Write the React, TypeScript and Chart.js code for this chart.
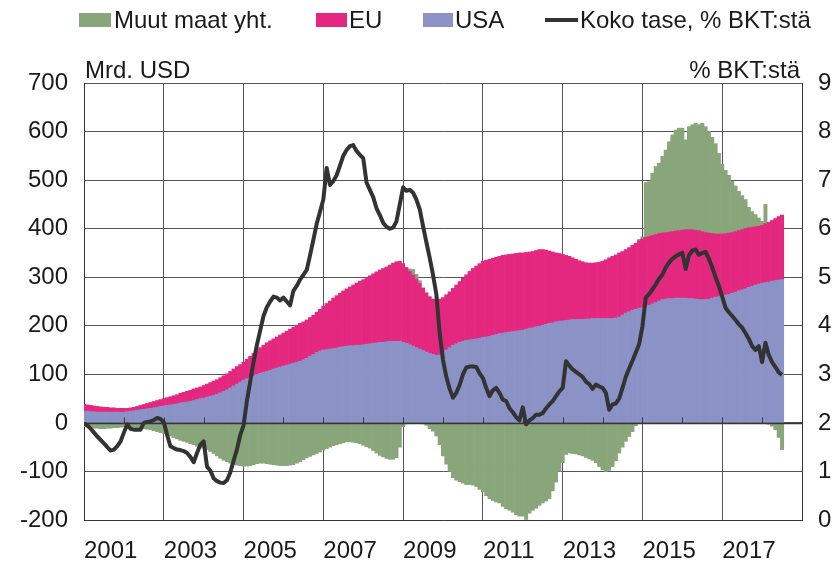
import { useEffect, useRef } from 'react';
import { Chart, registerables } from 'chart.js';

Chart.register(...registerables);

// ---------- data (monthly, Jan 2001 .. Jul 2018) ----------
const START_YEAR = 2001;
const X_LABELS = ['2001', '2003', '2005', '2007', '2009', '2011', '2013', '2015', '2017'];
const SERIES_NAMES = ['Muut maat yht.', 'EU', 'USA', 'Koko tase, % BKT:stä'];
const LEFT_TITLE = 'Mrd. USD';
const RIGHT_TITLE = '% BKT:stä';

const usa = [
  24, 24, 23, 23, 22, 22, 22, 22, 22, 22, 22, 22,
  22, 23, 24, 25, 26, 27, 28, 29, 30, 31, 32, 34,
  35, 36, 37, 38, 39, 41, 42, 43, 44, 46, 48, 50,
  51, 53, 55, 57, 59, 62, 65, 68, 72, 76, 80, 84,
  88, 91, 94, 97, 100, 102, 104, 106, 108, 111, 113, 115,
  117, 119, 121, 123, 125, 127, 130, 133, 137, 141, 145, 148,
  150, 151, 152, 153, 154, 156, 157, 158, 159, 159, 160, 160,
  161, 162, 163, 164, 165, 166, 166, 167, 168, 168, 168, 168,
  166, 164, 161, 158, 155, 152, 149, 146, 143, 141, 139, 140,
  145, 150, 155, 160, 163, 166, 168, 170, 171, 172, 173, 174,
  176, 177, 178, 180, 182, 184, 185, 186, 187, 188, 189, 190,
  191, 193, 195, 196, 198, 199, 201, 203, 205, 206, 208, 209,
  210, 211, 212, 213, 213, 213, 213, 214, 214, 215, 215, 215,
  215, 215, 215, 215, 216, 218, 222, 226, 229, 232, 234, 236,
  237, 239, 242, 245, 248, 251, 254, 255, 256, 256, 257, 257,
  257, 257, 256, 256, 255, 254, 254, 254, 255, 257, 259, 260,
  261, 263, 265, 267, 269, 272, 274, 276, 279, 281, 284, 286,
  288, 289, 290, 292, 293, 294, 295,
];

const eu = [
  14, 13, 13, 12, 12, 11, 10, 10, 9, 9, 8, 8,
  8, 7, 7, 7, 8, 9, 10, 11, 12, 13, 14, 14,
  15, 16, 17, 18, 19, 20, 21, 22, 23, 24, 24, 24,
  26, 27, 28, 29, 30, 31, 32, 33, 34, 35, 36, 36,
  37, 40, 43, 46, 49, 53, 56, 59, 61, 62, 64, 66,
  68, 70, 72, 74, 76, 78, 78, 79, 80, 81, 83, 86,
  90, 95, 99, 104, 108, 111, 115, 118, 121, 125, 128, 132,
  134, 137, 140, 143, 146, 149, 152, 154, 157, 161, 164, 165,
  162, 156, 151, 146, 141, 135, 129, 122, 117, 114, 115, 115,
  113, 114, 115, 117, 121, 125, 130, 135, 141, 146, 150, 154,
  157, 158, 159, 159, 159, 159, 160, 160, 160, 160, 160, 160,
  159, 158, 157, 157, 157, 158, 156, 153, 149, 146, 142, 140,
  137, 134, 131, 127, 124, 121, 119, 116, 115, 114, 115, 116,
  118, 121, 125, 128, 130, 132, 131, 131, 132, 134, 136, 139,
  142, 143, 142, 141, 140, 139, 137, 137, 137, 138, 138, 139,
  140, 141, 142, 142, 142, 142, 140, 138, 136, 133, 130, 129,
  128, 127, 126, 125, 125, 124, 124, 124, 123, 122, 120, 119,
  119, 121, 123, 125, 128, 131, 133,
];

const muut = [
  -8, -9, -10, -11, -11, -12, -12, -11, -11, -10, -10, -9,
  -8, -8, -8, -9, -10, -11, -12, -13, -14, -16, -18, -20,
  -22, -24, -27, -30, -33, -36, -38, -40, -43, -45, -48, -50,
  -52, -55, -59, -63, -68, -73, -77, -80, -83, -86, -87, -88,
  -89, -89, -88, -86, -84, -83, -83, -84, -85, -86, -87, -88,
  -88, -88, -87, -86, -83, -80, -76, -72, -69, -66, -63, -60,
  -56, -53, -50, -47, -45, -43, -41, -39, -39, -40, -41, -43,
  -46, -49, -52, -57, -62, -67, -70, -73, -75, -75, -72, -50,
  -8, -2, 5, 12, 10, 6, -2, -5, -12, -17, -27, -45,
  -68, -85, -100, -113, -118, -121, -124, -127, -127, -128, -131, -137,
  -142, -150, -156, -160, -163, -165, -172, -177, -180, -184, -189, -192,
  -192, -199, -186, -180, -176, -170, -165, -161, -156, -140, -122, -100,
  -82, -65, -62, -63, -64, -66, -68, -71, -74, -77, -82, -90,
  -97, -100, -98, -90, -78, -62, -50, -38, -28, -18, -6, 3,
  4, 113, 113, 128, 140, 145, 158, 170, 186, 199, 208, 211,
  210, 185, 212, 216, 220, 218, 223, 218, 209, 198, 186, 166,
  144, 130, 119, 106, 94, 81, 70, 60, 42, 32, 25, 17,
  8, 40, -3, -7, -14, -30, -55,
];

const kokoTase = [
  1.99, 1.95, 1.88, 1.8, 1.72, 1.65, 1.58, 1.5, 1.43, 1.45, 1.52, 1.62,
  1.8, 1.97, 1.88, 1.86, 1.86, 1.86, 2.0, 2.02, 2.03, 2.06, 2.1, 2.08,
  2.02, 1.75, 1.52, 1.48, 1.45, 1.44, 1.42, 1.38, 1.3, 1.19, 1.38, 1.55,
  1.62, 1.1, 1.02, 0.86, 0.8, 0.77, 0.76, 0.82, 0.98, 1.22, 1.45, 1.75,
  1.95, 2.45, 2.85, 3.25, 3.6, 3.9, 4.2, 4.38, 4.5, 4.6, 4.58, 4.52,
  4.58, 4.5, 4.42, 4.72, 4.82, 4.95, 5.05, 5.15, 5.45, 5.77, 6.1, 6.35,
  6.6, 7.25, 6.9, 6.98, 7.1, 7.3, 7.5, 7.62, 7.7, 7.72, 7.6, 7.52,
  7.45, 6.95, 6.8, 6.65, 6.42, 6.28, 6.12, 6.04, 6.0, 6.02, 6.15, 6.5,
  6.85, 6.78, 6.8, 6.74, 6.6, 6.4, 6.05, 5.72, 5.4, 5.05, 4.65, 3.85,
  3.3, 2.95, 2.7, 2.52, 2.62, 2.78, 3.0, 3.14, 3.16, 3.16, 3.15, 3.02,
  2.92, 2.72, 2.55, 2.67, 2.72, 2.62, 2.48, 2.45, 2.3, 2.22, 2.12, 2.05,
  2.32, 1.97, 2.05, 2.1, 2.17, 2.17, 2.2, 2.3, 2.38, 2.45, 2.55, 2.65,
  2.72, 3.27, 3.18, 3.1, 3.05, 3.0, 2.95, 2.85, 2.8, 2.7, 2.79, 2.75,
  2.72, 2.62, 2.27, 2.38, 2.4, 2.5, 2.72, 2.95, 3.12, 3.28, 3.45, 3.62,
  3.99, 4.58, 4.65, 4.75, 4.85, 4.97, 5.05, 5.2, 5.3, 5.38, 5.43, 5.47,
  5.5, 5.17, 5.45, 5.55, 5.57, 5.46, 5.5, 5.52, 5.38, 5.2, 5.0, 4.82,
  4.6, 4.37, 4.28, 4.2, 4.12, 4.03, 3.96, 3.85, 3.73, 3.58, 3.5, 3.58,
  3.25, 3.65, 3.4, 3.25, 3.15, 3.04, 2.99,
];

// ---------- styles ----------
const FONT = "'Liberation Sans', Arial, Helvetica, sans-serif";
const TEXT = '#1a1a1a';
const GRID = '#555555';
const AXIS = '#363636';
const C_MUUT = '#89a67b';
const C_EU = '#e4287f';
const C_USA = '#8b92c6';
const C_LINE = '#333333';

const X_MAX_MONTHS = 18 * 12;

const toPoints = (arr: number[]) => arr.map((v, i) => ({ x: i, y: v }));

const overlayPlugin = {
  id: 'overlay',
  beforeDatasetDraw(chart: any, args: any) {
    if (args.index !== 3) return;
    const { ctx, chartArea, scales } = chart;
    const y0 = Math.round(scales.y.getPixelForValue(0)) + 0.5;
    ctx.save();
    ctx.strokeStyle = AXIS;
    ctx.lineWidth = 1.5;
    ctx.beginPath();
    ctx.moveTo(chartArea.left, y0);
    ctx.lineTo(chartArea.right, y0);
    ctx.stroke();
    ctx.lineWidth = 1;
    ctx.beginPath();
    for (let j = 1; j < 18; j++) {
      const x = Math.round(scales.x.getPixelForValue(j * 12)) + 0.5;
      ctx.moveTo(x, y0);
      ctx.lineTo(x, y0 - 6);
    }
    ctx.stroke();
    ctx.restore();
  },
  afterDraw(chart: any) {
    const { ctx, chartArea } = chart;
    ctx.save();
    ctx.font = `24px ${FONT}`;
    ctx.fillStyle = TEXT;
    ctx.textBaseline = 'alphabetic';
    // axis titles
    ctx.textAlign = 'left';
    ctx.fillText(LEFT_TITLE, chartArea.left + 1, chartArea.top - 5);
    ctx.textAlign = 'right';
    ctx.fillText(RIGHT_TITLE, chartArea.right - 2, chartArea.top - 5);
    // legend
    ctx.textAlign = 'left';
    const baseY = 28;
    ctx.fillStyle = C_MUUT;
    ctx.fillRect(79, 13, 32, 14);
    ctx.fillStyle = TEXT;
    ctx.fillText(SERIES_NAMES[0], 114, baseY);
    ctx.fillStyle = C_EU;
    ctx.fillRect(316, 13, 31, 14);
    ctx.fillStyle = TEXT;
    ctx.fillText(SERIES_NAMES[1], 349, baseY);
    ctx.fillStyle = C_USA;
    ctx.fillRect(423, 13, 30, 14);
    ctx.fillStyle = TEXT;
    ctx.fillText(SERIES_NAMES[2], 455, baseY);
    ctx.strokeStyle = C_LINE;
    ctx.lineWidth = 4;
    ctx.beginPath();
    ctx.moveTo(545, 20);
    ctx.lineTo(578, 20);
    ctx.stroke();
    ctx.fillText(SERIES_NAMES[3], 580, baseY);
    ctx.restore();
  },
};

export default function App() {
  const canvasRef = useRef<HTMLCanvasElement | null>(null);

  useEffect(() => {
    const canvas = canvasRef.current;
    if (!canvas) return;
    const barCommon = {
      type: 'bar' as const,
      yAxisID: 'y',
      stack: 'main',
      barPercentage: 1,
      categoryPercentage: 1,
      borderWidth: 0,
    };
    const chart = new Chart(canvas, {
      type: 'bar',
      data: {
        datasets: [
          { ...barCommon, label: SERIES_NAMES[2], data: toPoints(usa), backgroundColor: C_USA },
          { ...barCommon, label: SERIES_NAMES[1], data: toPoints(eu), backgroundColor: C_EU },
          { ...barCommon, label: SERIES_NAMES[0], data: toPoints(muut), backgroundColor: C_MUUT },
          {
            type: 'line',
            label: SERIES_NAMES[3],
            data: toPoints(kokoTase),
            yAxisID: 'y2',
            borderColor: C_LINE,
            borderWidth: 4,
            borderJoinStyle: 'round',
            pointRadius: 0,
            tension: 0,
            order: -1,
          } as any,
        ],
      },
      options: {
        responsive: false,
        animation: false,
        events: [],
        layout: { padding: { top: 83, left: 0, right: 0, bottom: 0 } },
        plugins: { legend: { display: false }, tooltip: { enabled: false } },
        scales: {
          x: {
            type: 'linear',
            min: 0,
            max: X_MAX_MONTHS,
            stacked: true,
            offset: false,
            grid: { color: GRID, lineWidth: 1, drawTicks: false, offset: false },
            border: { color: AXIS, width: 1 },
            ticks: {
              stepSize: 24,
              autoSkip: false,
              maxRotation: 0,
              minRotation: 0,
              align: 'start',
              padding: 17,
              color: TEXT,
              font: { family: FONT, size: 24 },
              callback: (value: any) => {
                const i = Math.round(Number(value) / 24);
                return X_LABELS[i] ?? '';
              },
            },
            afterFit: (s: any) => {
              s.height = 44;
            },
          },
          y: {
            position: 'left',
            stacked: true,
            min: -200,
            max: 700,
            grid: { color: GRID, lineWidth: 1, drawTicks: false },
            border: { color: AXIS, width: 1 },
            ticks: {
              stepSize: 100,
              padding: 16,
              color: TEXT,
              font: { family: FONT, size: 24 },
            },
            afterFit: (s: any) => {
              s.width = 84;
            },
          },
          y2: {
            position: 'right',
            min: 0,
            max: 9,
            grid: { drawOnChartArea: false, drawTicks: false },
            border: { color: AXIS, width: 1 },
            ticks: {
              stepSize: 1,
              padding: 16,
              color: TEXT,
              font: { family: FONT, size: 24 },
            },
            afterFit: (s: any) => {
              s.width = 38;
            },
          },
        },
      } as any,
      plugins: [overlayPlugin],
    });
    return () => chart.destroy();
  }, []);

  return (
    <div style={{ position: 'absolute', left: 0, top: 0, width: 840, height: 564, background: '#fff' }}>
      <canvas ref={canvasRef} width={840} height={564} style={{ display: 'block' }} />
    </div>
  );
}
